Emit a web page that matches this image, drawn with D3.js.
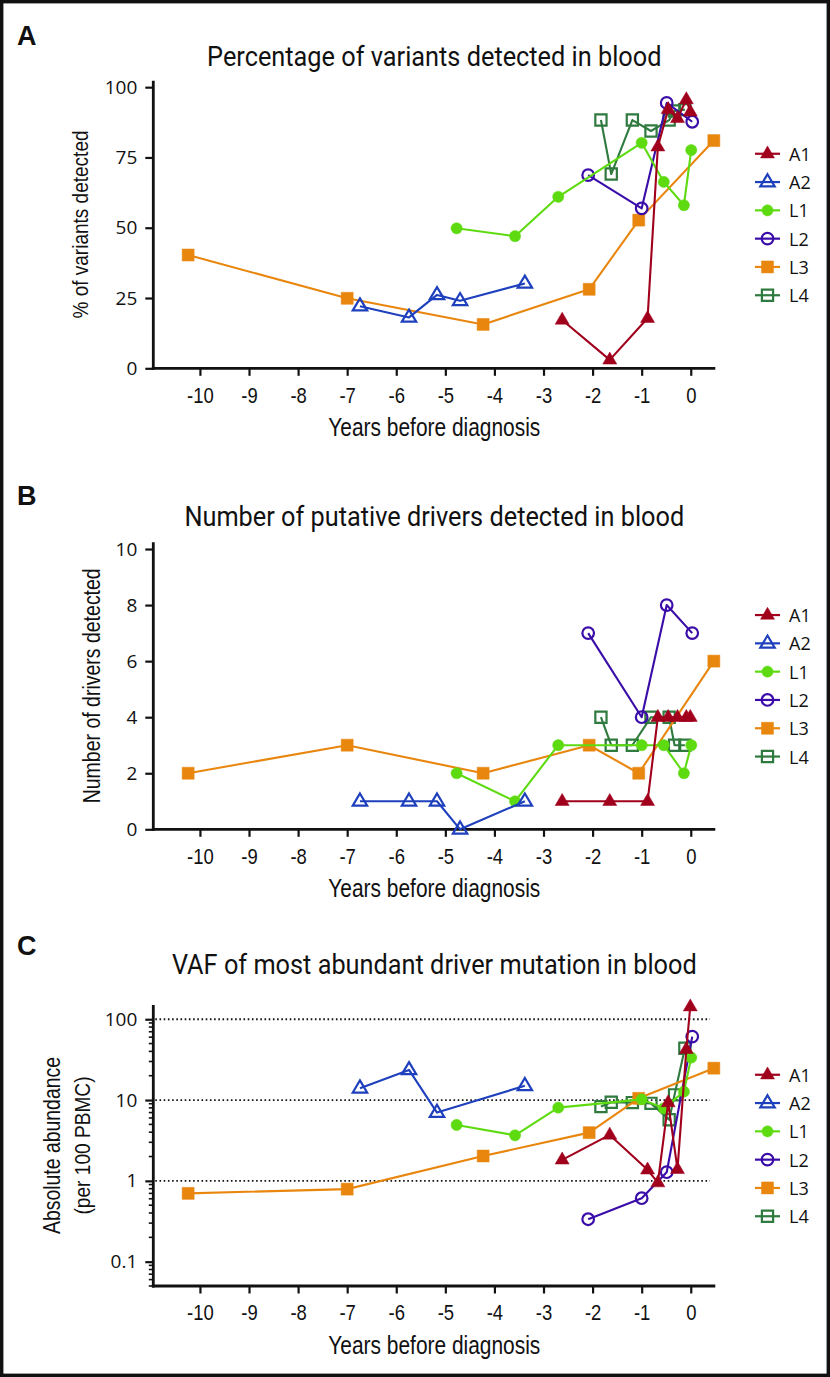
<!DOCTYPE html>
<html><head><meta charset="utf-8">
<script src="https://cdn.jsdelivr.net/npm/d3@7"></script>
<style>body{margin:0;background:#fff}svg{display:block}</style>
</head><body><div id="chart"></div>
<script>
// ---------- DATA ----------
const seriesNames = ["A1", "A2", "L1", "L2", "L3", "L4"];
const xTicks = [-10, -9, -8, -7, -6, -5, -4, -3, -2, -1, 0];
const pctTicks = [0, 25, 50, 75, 100];
const drvTicks = [0, 2, 4, 6, 8, 10];
const vafTicks = [0.1, 1, 10, 100];
const vafTickLabels = ["0.1", "1", "10", "100"];
const vafGridLines = [1, 10, 100];

const yearsA1 = [-2.62, -1.65, -0.88, -0.67, -0.46, -0.27, -0.09, -0.01];
const pctA1   = [17.2, 3, 17.8, 78.8, 92.1, 88.9, 95.6, 91.2];
const drvA1   = [1, 1, 1, 4, 4, 4, 4, 4];
const vafA1   = [1.82, 3.7, 1.37, 0.95, 9.3, 1.39, 42.5, 143];

const yearsA2 = [-6.74, -5.74, -5.17, -4.70, -3.38];
const pctA2   = [22.1, 18.1, 26.1, 24.0, 30.2];
const drvA2   = [1, 1, 1, 0, 1];
const vafA2   = [14.0, 23.6, 7.0, null, 15.0];

const yearsL1 = [-4.77, -3.58, -2.70, -1.00, -0.55, -0.14, 0.01];
const pctL1   = [49.8, 47.0, 61.0, 80.2, 66.3, 58.0, 77.6];
const drvL1   = [2, 1, 3, 3, 3, 2, 3];
const vafL1   = [4.92, 3.66, 8.05, 10.2, 7.9, 12.7, 33.5];

const yearsL2 = [-2.09, -1.00, -0.49, 0.03];
const pctL2   = [68.7, 56.9, 94.4, 87.7];
const drvL2   = [7, 4, 8, 7];
const vafL2   = [0.335, 0.61, 1.28, 61];

const yearsL3 = [-10.24, -7.00, -4.23, -2.07, -1.06, 0.47];
const pctL3   = [40.3, 24.9, 15.6, 28.1, 52.7, 81.0];
const drvL3   = [2, 3, 2, 3, 2, 6];
const vafL3   = [0.70, 0.79, 2.03, 3.95, 10.5, 24.8];

const yearsL4 = [-1.83, -1.62, -1.19, -0.81, -0.44, -0.33, -0.12];
const pctL4   = [88.3, 69.1, 88.3, 84.4, 88.3, 91.5, 92.0];
const drvL4   = [4, 3, 3, 4, 4, 3, 3];
const vafL4   = [8.3, 9.4, 9.3, 9.1, 5.7, 11.6, 43.8];

const panelLetters = ["A", "B", "C"];
const panelTitles = ["Percentage of variants detected in blood",
                     "Number of putative drivers detected in blood",
                     "VAF of most abundant driver mutation in blood"];
const yTitles = [["% of variants detected"], ["Number of drivers detected"],
                 ["Absolute abundance", "(per 100 PBMC)"]];
const xTitle = "Years before diagnosis";

// ---------- STYLE / LAYOUT ----------
const seriesColors = ["#a1001d", "#1f40bd", "#5edb10", "#3a0ca8", "#e8860e", "#2f7a3e"];
const seriesSymbols = ["triFill", "triOpen", "circFill", "circOpen", "sqFill", "sqOpen"];
const W = 830, H = 1377;
const plotL = 153.3, plotR = 715.3;
const panelsLayout = [
  {top: 80.7, bottom: 368.3, letterY: 45, titleY: 66},
  {top: 542.3, bottom: 829.3, letterY: 505, titleY: 526},
  {top: 1005, bottom: 1286, letterY: 955, titleY: 974}
];
const yTitleX = [[80], [92], [52, 82]];
const yTitleLen = [[188], [235], [177, 138]];
const SQ = 0.84; // horizontal squeeze to mimic a condensed face
const titleFont = "Roboto, 'Open Sans', sans-serif";
const condFont = "'Liberation Sans', Arial, sans-serif";
const numFont = "'Open Sans', 'Noto Sans', sans-serif";

const svg = d3.select("#chart").append("svg").attr("width", W).attr("height", H);
svg.append("rect").attr("x", 0).attr("y", 0).attr("width", W).attr("height", H).attr("fill", "#fff");

const x = d3.scaleLinear().domain([-10.95, 0.5]).range([plotL, plotR]);

const yearsAll = [yearsA1, yearsA2, yearsL1, yearsL2, yearsL3, yearsL4];
const valuesByPanel = [
  [pctA1, pctA2, pctL1, pctL2, pctL3, pctL4],
  [drvA1, drvA2, drvL1, drvL2, drvL3, drvL4],
  [vafA1, vafA2, vafL1, vafL2, vafL3, vafL4]
];

function symbolPath(type) {
  switch (type) {
    case "triFill": return "M0,-7.8L7,4.2L-7,4.2Z";
    case "triOpen": return "M0,-7.8L7.2,4.3L-7.2,4.3Z";
    case "circFill": return d3.symbol(d3.symbolCircle, Math.PI * 5.6 * 5.6)();
    case "circOpen": return d3.symbol(d3.symbolCircle, Math.PI * 5.8 * 5.8)();
    case "sqFill": return "M-6,-6H6V6H-6Z";
    case "sqOpen": return "M-5.6,-5.6H5.6V5.6H-5.6Z";
  }
}
function isOpen(type) { return type.endsWith("Open"); }

function drawSymbol(g, type, color, cx, cy) {
  g.append("path").attr("d", symbolPath(type))
    .attr("transform", `translate(${cx},${cy})`)
    .attr("fill", isOpen(type) ? "none" : color)
    .attr("stroke", color).attr("stroke-width", isOpen(type) ? 2.2 : 0.5)
    .attr("stroke-linejoin", "miter");
}

function fitFont(sel, target, base, squeeze) {
  const len = sel.node().getComputedTextLength() * (squeeze || 1);
  const fs = base * target / len;
  sel.attr("font-size", fs);
  return fs;
}

let titleFs = null, xTitleFs = null;

panelsLayout.forEach((P, pi) => {
  const g = svg.append("g");
  let y;
  if (pi === 0) y = d3.scaleLinear().domain([0, 102.3]).range([P.bottom, P.top]);
  else if (pi === 1) y = d3.scaleLinear().domain([0, 10.24]).range([P.bottom, P.top]);
  else y = d3.scaleLog().domain([0.05, 150]).range([P.bottom, P.top]);

  // panel letter
  g.append("text").attr("x", 17).attr("y", P.letterY).text(panelLetters[pi])
    .attr("font-family", "'Liberation Sans', Arial, sans-serif").attr("font-weight", "bold")
    .attr("font-size", 27).attr("fill", "#111");

  // title
  const t = g.append("text")
    .attr("transform", `translate(${(plotL + plotR) / 2},${P.titleY}) scale(0.9,1)`)
    .attr("text-anchor", "middle").attr("font-family", titleFont).attr("font-size", 22)
    .attr("fill", "#111").text(panelTitles[pi]);
  if (titleFs === null) titleFs = fitFont(t, 454, 22, 0.9); else t.attr("font-size", titleFs);

  // gridlines (log panel)
  if (pi === 2) {
    g.selectAll(".grid").data(vafGridLines).join("line")
      .attr("x1", plotL + 2).attr("x2", 710)
      .attr("y1", d => y(d)).attr("y2", d => y(d))
      .attr("stroke", "#111").attr("stroke-width", 1.8)
      .attr("stroke-dasharray", "1.6,2.6");
  }

  // y axis
  let yAxis;
  if (pi === 0) yAxis = d3.axisLeft(y).tickValues(pctTicks).tickFormat(d3.format("d"));
  else if (pi === 1) yAxis = d3.axisLeft(y).tickValues(drvTicks).tickFormat(d3.format("d"));
  else yAxis = d3.axisLeft(y).tickValues(vafTicks).tickFormat((d, i) => vafTickLabels[i]);
  yAxis.tickSize(8).tickPadding(8).tickSizeOuter(0);
  const ya = g.append("g").attr("transform", `translate(${plotL},0)`).call(yAxis);
  ya.select(".domain").attr("stroke", "#111").attr("stroke-width", 2.8)
    .attr("d", `M0,${P.bottom + 1.4}V${P.top}`);
  ya.selectAll(".tick line").attr("stroke", "#111").attr("stroke-width", 2.2);
  ya.selectAll(".tick text").attr("font-family", numFont).attr("font-size", 19)
    .attr("fill", "#111");

  if (pi === 2) {
    const minors = [];
    [0.01, 0.1, 1, 10].forEach(dec => {
      for (let k = 2; k <= 9; k++) {
        const v = dec * k;
        if (v >= 0.05 && v <= 150) minors.push(v);
      }
    });
    g.selectAll(".minor").data(minors).join("line")
      .attr("x1", plotL - 4.5).attr("x2", plotL)
      .attr("y1", d => y(d)).attr("y2", d => y(d))
      .attr("stroke", "#111").attr("stroke-width", 1.6);
  }

  // x axis
  const xAxis = d3.axisBottom(x).tickValues(xTicks).tickFormat(d => d === 0 ? "0" : "-" + Math.abs(d))
    .tickSize(7.5).tickPadding(6).tickSizeOuter(0);
  const xa = g.append("g").attr("transform", `translate(0,${P.bottom})`).call(xAxis);
  xa.select(".domain").attr("stroke", "#111").attr("stroke-width", 2.8)
    .attr("d", `M${plotL - 1.4},0H${plotR}`);
  xa.selectAll(".tick line").attr("stroke", "#111").attr("stroke-width", 2.2);
  xa.selectAll(".tick text").attr("font-family", condFont).attr("font-size", 22)
    .attr("fill", "#111").attr("dy", "0.95em").attr("transform", `scale(${SQ},1)`);

  // x title
  const xt = g.append("text")
    .attr("transform", `translate(${(plotL + plotR) / 2},${P.bottom + 59}) scale(${SQ},1)`)
    .attr("text-anchor", "middle").attr("dominant-baseline", "central")
    .attr("font-family", condFont).attr("font-size", 20).attr("fill", "#111").text(xTitle);
  if (xTitleFs === null) xTitleFs = fitFont(xt, 212, 20, SQ); else xt.attr("font-size", xTitleFs);

  // y title
  const cy = (P.top + P.bottom) / 2;
  yTitles[pi].forEach((line, li) => {
    const yt = g.append("text")
      .attr("transform", `translate(${yTitleX[pi][li]},${cy}) rotate(-90) scale(${SQ},1)`)
      .attr("text-anchor", "middle").attr("dominant-baseline", "central")
      .attr("font-family", condFont).attr("font-size", 18).attr("fill", "#111").text(line);
    fitFont(yt, yTitleLen[pi][li], 18, SQ);
  });

  // series (A1 ends on top)
  const order = [5, 4, 3, 2, 1, 0];
  order.forEach(si => {
    const pts = yearsAll[si].map((yr, i) => ({yr, v: valuesByPanel[pi][si][i]}))
      .filter(d => d.v !== null && d.v !== undefined);
    const line = d3.line().x(d => x(d.yr)).y(d => y(d.v));
    g.append("path").attr("d", line(pts)).attr("fill", "none")
      .attr("stroke", seriesColors[si]).attr("stroke-width", 2.1).attr("stroke-linejoin", "round");
    pts.forEach(d => drawSymbol(g, seriesSymbols[si], seriesColors[si], x(d.yr), y(d.v)));
  });

  // legend
  const legStep = 28.3;
  const legTop = cy - 2.5 * legStep;
  seriesNames.forEach((name, si) => {
    const ly = legTop + si * legStep;
    g.append("line").attr("x1", 755).attr("x2", 780).attr("y1", ly).attr("y2", ly)
      .attr("stroke", seriesColors[si]).attr("stroke-width", 2.2);
    drawSymbol(g, seriesSymbols[si], seriesColors[si], 767.5, ly);
    g.append("text").attr("x", 789).attr("y", ly).attr("dominant-baseline", "central")
      .attr("font-family", numFont).attr("font-size", 18).attr("fill", "#111").text(name);
  });
});

// outer frame
svg.append("rect").attr("x", 1.6).attr("y", 1.6).attr("width", W - 3.2).attr("height", H - 3.2)
  .attr("fill", "none").attr("stroke", "#111").attr("stroke-width", 3.6);
</script>
</body></html>
